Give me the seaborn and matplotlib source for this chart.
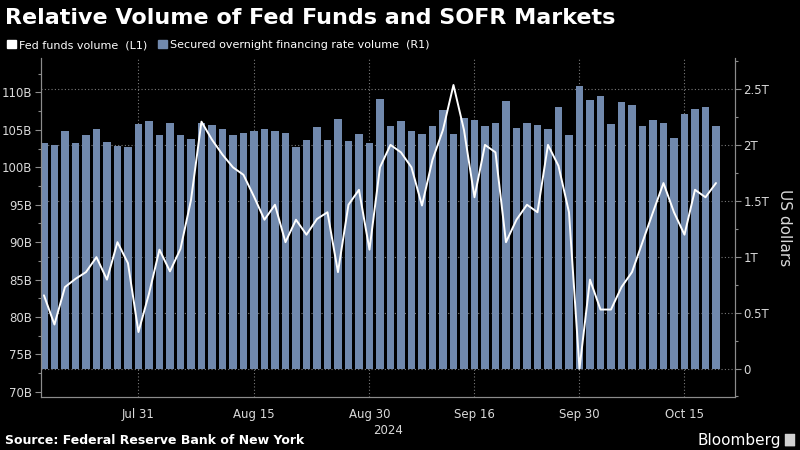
import numpy as np
import pandas as pd
import matplotlib
matplotlib.use("Agg")
import matplotlib.pyplot as plt
from matplotlib.patches import Patch, FancyBboxPatch
from matplotlib.ticker import FixedLocator, MultipleLocator
import seaborn as sns

#------------------------------------------------------------------------------
# data
#------------------------------------------------------------------------------
start_date = '2024-07-18'
end_date = '2024-10-18'
holidays = ['2024-09-02', '2024-10-14']

# Secured overnight financing rate volume, trillions USD (R1)
sofr_volume = [2.02, 2.00, 2.125, 2.02, 2.09, 2.14, 2.03, 1.99, 1.98, 2.19,
               2.215, 2.085, 2.20, 2.09, 2.05, 2.20, 2.18, 2.14, 2.09, 2.11,
               2.125, 2.14, 2.125, 2.105, 1.98, 2.04, 2.16, 2.04, 2.235, 2.035,
               2.095, 2.02, 2.41, 2.17, 2.21, 2.125, 2.10, 2.165, 2.315, 2.095,
               2.24, 2.22, 2.165, 2.20, 2.39, 2.155, 2.20, 2.18, 2.14, 2.335,
               2.085, 2.53, 2.40, 2.435, 2.19, 2.38, 2.36, 2.17, 2.225, 2.20,
               2.065, 2.28, 2.32, 2.34, 2.17]

# Fed funds volume, billions USD (L1)
ff_volume = [82.9, 79.0, 84.0, 85.1, 86.0, 88.0, 85.0, 90.0, 87.2, 78.0,
             83.1, 89.0, 86.1, 89.1, 95.6, 106.1, 103.7, 101.7, 100.0, 99.0,
             96.1, 93.0, 95.0, 90.0, 93.0, 91.0, 93.1, 94.0, 86.0, 95.0,
             97.0, 89.0, 100.0, 103.0, 102.0, 100.0, 94.9, 101.0, 105.0, 111.0,
             105.0, 96.0, 103.0, 102.0, 90.0, 93.0, 95.0, 94.0, 103.0, 100.2,
             94.0, 73.1, 85.0, 81.0, 81.0, 84.0, 86.0, 90.0, 94.0, 97.9,
             94.0, 91.0, 97.0, 96.0, 97.9]

major_dates = ['2024-07-31', '2024-08-15', '2024-08-30', '2024-09-16', '2024-09-30', '2024-10-15']
major_labels = ['Jul 31', 'Aug 15', 'Aug 30', 'Sep 16', 'Sep 30', 'Oct 15']
minor_dates = ['2024-07-22', '2024-08-08', '2024-08-23', '2024-09-09', '2024-09-23', '2024-10-08']

right_ticks = [0, 0.5, 1, 1.5, 2, 2.5]
right_labels = ['0', '0.5T', '1T', '1.5T', '2T', '2.5T']
left_ticks = [70, 75, 80, 85, 90, 95, 100, 105, 110]
left_labels = ['70B', '75B', '80B', '85B', '90B', '95B', '100B', '105B', '110B']

#------------------------------------------------------------------------------
dates = pd.bdate_range(start_date, end_date, freq='C', holidays=holidays)
df = pd.DataFrame({'date': dates.strftime('%Y-%m-%d'),
                   'sofr': sofr_volume,
                   'ff': ff_volume})
df['pos'] = np.arange(len(df))
date_pos = dict(zip(df['date'], df['pos']))

bar_color = '#7189ad'
fg = '#d9d9d9'
spine_col = '#8c8c8c'

sns.set_style('dark', {'axes.facecolor': 'black', 'figure.facecolor': 'black'})
plt.rcParams['font.family'] = ['DejaVu Sans']

fig, ax = plt.subplots(figsize=(8, 4.5), dpi=100)
fig.patch.set_facecolor('black')
plt.subplots_adjust(left=0.051, right=0.919, bottom=0.118, top=0.871)

# bars (right axis)
sns.barplot(data=df, x='pos', y='sofr', color=bar_color, width=0.74,
            saturation=1, edgecolor='none', linewidth=0, ax=ax, zorder=2)
ax.set_xlim(-0.3, len(df) - 1 + 1.83)
ax.set_ylim(-0.254, 2.777)

# line (left axis)
ax2 = ax.twinx()
sns.lineplot(x=df['pos'], y=df['ff'], color='white', linewidth=1.4, ax=ax2)
ax2.set_ylim(69.33, 114.6)

# twinx moves ticks, so set sides afterwards
ax.yaxis.tick_right()
ax.yaxis.set_label_position('right')
ax2.yaxis.tick_left()
ax2.yaxis.set_label_position('left')

ax.yaxis.set_major_locator(FixedLocator(right_ticks))
ax.set_yticklabels(right_labels)
ax.yaxis.set_minor_locator(MultipleLocator(0.25))
ax.set_ylabel('US dollars', rotation=270, labelpad=16, color=fg, fontsize=11)
ax.set_xlabel('2024', color=fg, fontsize=8.5, labelpad=2)

ax.set_xticks([date_pos[d] for d in major_dates])
ax.set_xticklabels(major_labels)
ax.set_xticks([date_pos[d] for d in minor_dates], minor=True)

ax.grid(True, axis='both', which='major', color='#7a7a7a', linestyle=(0, (1, 2)),
        linewidth=0.8)
ax.set_axisbelow(True)

ax2.yaxis.set_major_locator(FixedLocator(left_ticks))
ax2.set_yticklabels(left_labels)
ax2.yaxis.set_minor_locator(MultipleLocator(2.5))
ax2.set_ylabel('')
ax2.grid(False)

for a in (ax, ax2):
    a.tick_params(axis='both', which='major', colors=spine_col, labelcolor=fg,
                  labelsize=8.5, length=4, width=0.8, direction='out', pad=2)
    a.tick_params(axis='both', which='minor', colors=spine_col, length=2.5,
                  width=0.8, direction='out')
    a.spines['top'].set_visible(False)
    for s in ('left', 'right', 'bottom'):
        a.spines[s].set_color(spine_col)
        a.spines[s].set_linewidth(0.8)
ax.tick_params(axis='x', which='major', length=5, pad=3)

# title, legend, footer
fig.text(0.006, 0.96, 'Relative Volume of Fed Funds and SOFR Markets',
         color='white', fontsize=16, fontweight='bold', va='center', ha='left')
handles = [Patch(color='white', label='Fed funds volume  (L1)'),
           Patch(color=bar_color, label='Secured overnight financing rate volume  (R1)')]
fig.legend(handles=handles, loc='center left', bbox_to_anchor=(0.0, 0.9),
           ncol=2, frameon=False, fontsize=8, labelcolor='white',
           handlelength=0.8, handleheight=0.8, handletextpad=0.3,
           columnspacing=1.0, borderaxespad=0.2)
fig.text(0.006, 0.022, 'Source: Federal Reserve Bank of New York',
         color='white', fontsize=9, fontweight='bold', va='center', ha='left')
fig.text(0.976, 0.022, 'Bloomberg', color='white', fontsize=11,
         va='center', ha='right')
fig.patches.append(FancyBboxPatch((0.982, 0.009), 0.011, 0.026,
                                  boxstyle='round,pad=0.001', transform=fig.transFigure,
                                  facecolor='#cfcfcf', edgecolor='none'))

plt.savefig('out.png', dpi=100, facecolor='black')
